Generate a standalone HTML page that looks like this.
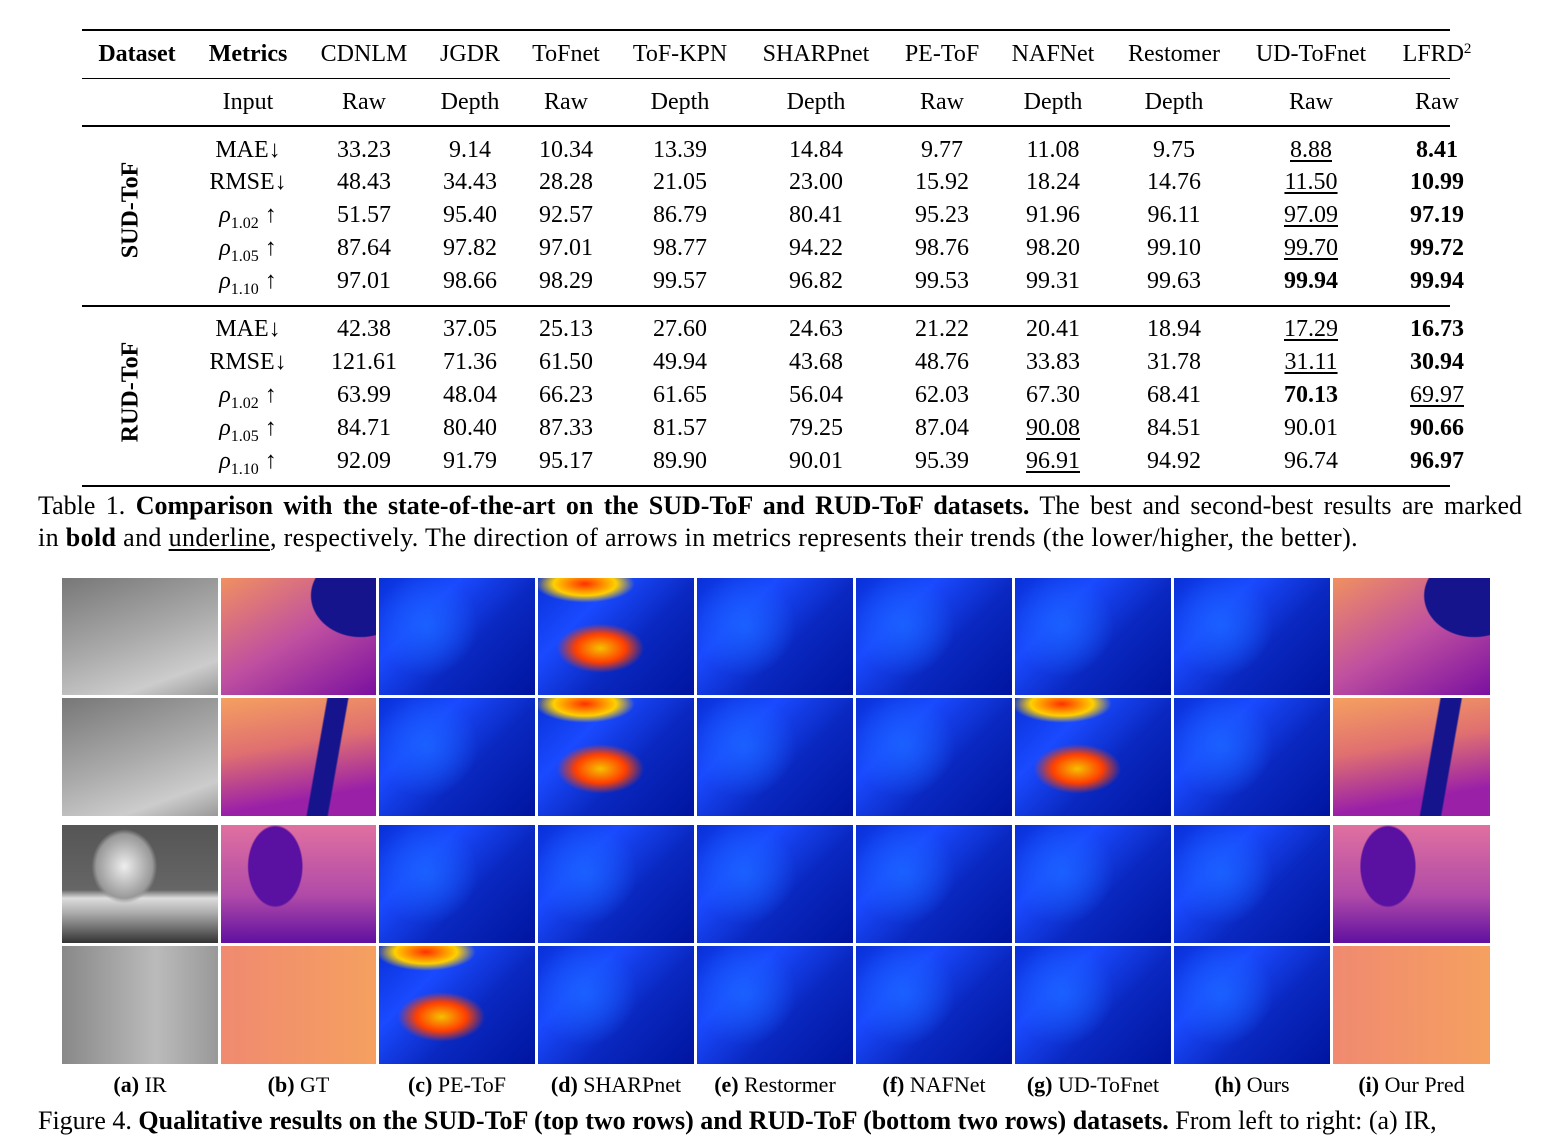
<!DOCTYPE html>
<html><head><meta charset="utf-8">
<style>
body{margin:0;width:1551px;height:1119px;overflow:hidden;background:#fff;font-family:"Liberation Serif",serif;color:#000;position:relative}
.a{position:absolute;white-space:nowrap}
.c{position:absolute;transform:translateX(-50%);font-size:24px;white-space:nowrap;line-height:28px}
.rule{position:absolute;left:82px;width:1368px;background:#000}
.img{position:absolute}
.u{text-decoration:underline;text-underline-offset:3px}
.rot{position:absolute;font-weight:bold;font-size:24px;transform:translate(-50%,-50%) rotate(-90deg)}
.lab{position:absolute;transform:translateX(-50%);font-size:22px;top:1072px;white-space:nowrap}
sup{line-height:0;vertical-align:8px}
sub{line-height:0}
</style></head><body>
<div id="tbl"></div>
<div class="rule" style="top:29px;height:2px"></div>
<div class="rule" style="top:78px;height:1px"></div>
<div class="rule" style="top:125px;height:1.5px"></div>
<div class="rule" style="top:305px;height:1.5px"></div>
<div class="rule" style="top:485px;height:2px"></div>
<div class="rot" style="left:131px;top:210px">SUD-ToF</div>
<div class="rot" style="left:131px;top:392px">RUD-ToF</div>
<div class="a" style="left:38px;top:491px;width:1484px;font-size:26px;text-align:justify;text-align-last:justify">Table 1. <b>Comparison with the state-of-the-art on the SUD-ToF and RUD-ToF datasets.</b> The best and second-best results are marked</div>
<div class="a" style="left:38px;top:523px;font-size:26px;letter-spacing:0.35px">in <b>bold</b> and <span class="u">underline</span>, respectively. The direction of arrows in metrics represents their trends (the lower/higher, the better).</div>
<div id="grid"></div>
<div class="a" style="left:38px;top:1106px;font-size:26px">Figure 4. <b>Qualitative results on the SUD-ToF (top two rows) and RUD-ToF (bottom two rows) datasets.</b> From left to right: (a) IR,</div>
<script>
const colX=[137,248,364,470,566,680,816,942,1053,1174,1311,1437];
const header=["*Dataset","*Metrics","CDNLM","JGDR","ToFnet","ToF-KPN","SHARPnet","PE-ToF","NAFNet","Restomer","UD-ToFnet","LFRD<sup style='font-size:15px'>2</sup>"];
const sub=["","Input","Raw","Depth","Raw","Depth","Depth","Raw","Depth","Depth","Raw","Raw"];
const metrics=["MAE↓","RMSE↓","<i>ρ</i><sub style='font-size:16px'>1.02</sub> ↑","<i>ρ</i><sub style='font-size:16px'>1.05</sub> ↑","<i>ρ</i><sub style='font-size:16px'>1.10</sub> ↑"];
const sudRows=[
["33.23","9.14","10.34","13.39","14.84","9.77","11.08","9.75","_8.88","*8.41"],
["48.43","34.43","28.28","21.05","23.00","15.92","18.24","14.76","_11.50","*10.99"],
["51.57","95.40","92.57","86.79","80.41","95.23","91.96","96.11","_97.09","*97.19"],
["87.64","97.82","97.01","98.77","94.22","98.76","98.20","99.10","_99.70","*99.72"],
["97.01","98.66","98.29","99.57","96.82","99.53","99.31","99.63","*99.94","*99.94"]];
const rudRows=[
["42.38","37.05","25.13","27.60","24.63","21.22","20.41","18.94","_17.29","*16.73"],
["121.61","71.36","61.50","49.94","43.68","48.76","33.83","31.78","_31.11","*30.94"],
["63.99","48.04","66.23","61.65","56.04","62.03","67.30","68.41","*70.13","_69.97"],
["84.71","80.40","87.33","81.57","79.25","87.04","_90.08","84.51","90.01","*90.66"],
["92.09","91.79","95.17","89.90","90.01","95.39","_96.91","94.92","96.74","*96.97"]];
const tbl=document.getElementById('tbl');
function cell(txt,x,y,name){
  const d=document.createElement('div');
  d.className='c';
  d.style.left=x+'px';d.style.top=(y-14)+'px';
  if(txt.startsWith('*')){d.style.fontWeight='bold';txt=txt.slice(1);}
  else if(txt.startsWith('_')){d.classList.add('u');txt=txt.slice(1);}
  d.innerHTML=txt;
  
  
  tbl.appendChild(d);
}
header.forEach((h,i)=>cell(h,colX[i],54,'header-cell'));
sub.forEach((h,i)=>{if(h)cell(h,colX[i],102,'input-type-cell');});
const sudY=[150,182,215,248,281],rudY=[329,362,395,428,461];
[[sudRows,sudY],[rudRows,rudY]].forEach(([rows,ys])=>{
  rows.forEach((r,ri)=>{
    cell(metrics[ri],colX[1],ys[ri],'metric-label');
    r.forEach((v,ci)=>cell(v,colX[ci+2],ys[ri],'value-cell'));
  });
});
const gx=[62,221,379,538,697,856,1015,1174,1333],gw=[156,155,156,156,156,156,156,156,157];
const gy=[578,698,825,946],gh=[117,118,118,118];
const labels=[["a","IR"],["b","GT"],["c","PE-ToF"],["d","SHARPnet"],["e","Restormer"],["f","NAFNet"],["g","UD-ToFnet"],["h","Ours"],["i","Our Pred"]];
const grid=document.getElementById('grid');
function bg(ci,ri){
  if(ci==0){
    if(ri==2) return "radial-gradient(ellipse 30% 45% at 40% 35%,#eee,#999 60%,transparent 70%),linear-gradient(#555 0%,#666 55%,#ddd 62%,#aaa 75%,#333 100%)";
    return ri==3?"linear-gradient(90deg,#888,#bbb 60%,#999)":"linear-gradient(160deg,#777,#aaa 50%,#ccc 80%,#999)";
  }
  if(ci==1||ci==8){
    if(ri==0) return "radial-gradient(ellipse 45% 50% at 90% 15%,#16148c 70%,transparent 72%),linear-gradient(150deg,#f09060,#c050a0 50%,#7a10a0)";
    if(ri==1) return "linear-gradient(100deg,transparent 60%,#16148c 61%,#16148c 72%,transparent 73%),linear-gradient(170deg,#f5a060,#e07070 40%,#9a20a8 80%)";
    if(ri==2) return "radial-gradient(ellipse 18% 35% at 35% 35%,#5a10a0 95%,transparent 100%),linear-gradient(#e070a0,#b04aa8 60%,#6010a0)";
    return "linear-gradient(90deg,#f08a70,#f5a060)";
  }
  const hot=(ci==3&&ri<2)||(ci==2&&ri==3)||(ri==1&&ci==6);
  let s="radial-gradient(circle at 30% 40%,#1a60ff 0,transparent 40%),";
  if(hot) s="radial-gradient(ellipse 40% 30% at 40% 60%,#f5c000,#ff4000 40%,transparent 70%),radial-gradient(ellipse 40% 20% at 30% 5%,#ff3000,#ffd000 50%,transparent 80%),";
  return s+"linear-gradient(135deg,#0830d8,#1a4aff 30%,#0a28c0 60%,#0015a0)";
}
gy.forEach((y,ri)=>gx.forEach((x,ci)=>{
  const d=document.createElement('div');
  d.className='img';
  d.style.cssText=`left:${x}px;top:${y}px;width:${gw[ci]}px;height:${gh[ri]}px;background:${bg(ci,ri)}`;
  
  
  grid.appendChild(d);
}));
labels.forEach((l,i)=>{
  const d=document.createElement('div');
  d.className='lab';
  d.style.left=(gx[i]+gw[i]/2)+'px';
  d.innerHTML=`<b>(${l[0]})</b> ${l[1]}`;
  
  
  grid.appendChild(d);
});
</script>
</body></html>
